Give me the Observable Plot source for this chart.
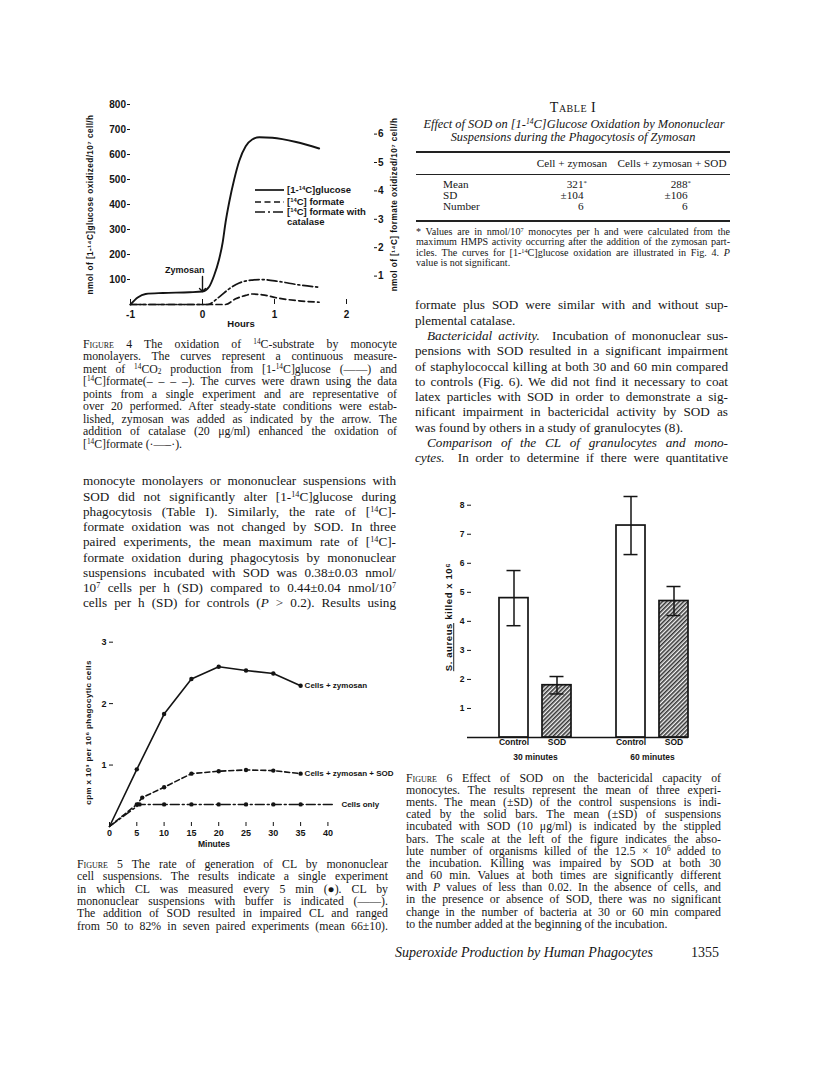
<!DOCTYPE html>
<html><head><meta charset="utf-8">
<script src="https://cdn.jsdelivr.net/npm/d3@7"></script>
<script src="https://cdn.jsdelivr.net/npm/@observablehq/plot@0.6"></script>
<style>
html,body{margin:0;padding:0;background:#fff;}
body{width:816px;height:1082px;position:relative;overflow:hidden;color:#161616;font-family:"Liberation Serif","Times New Roman",serif;}
.abs{position:absolute;}
.ln{white-space:nowrap;overflow:visible;}
sup{font-size:0.62em;line-height:0;vertical-align:0.5em;}
sub{font-size:0.62em;line-height:0;vertical-align:-0.15em;}
.sc{font-variant:small-caps;}
.sans{font-family:"Liberation Sans",Arial,sans-serif;font-weight:bold;}
svg{overflow:visible;}
</style>
</head><body>
<script>
// ================= DATA =================
// Figure 4 – continuous 14CO2 production (left axis nmol/10^7 cell/h, right axis formate nmol/10^7 cell/h)
const glucoseHours  = [-1, -0.9, -0.79, -0.55, -0.18, 0, 0.09, 0.16, 0.23, 0.28, 0.32, 0.37, 0.44, 0.51, 0.6, 0.69, 0.79, 0.97, 1.3, 1.62];
const glucoseRate   = [0, 28, 42, 46, 49, 52, 70, 115, 180, 248, 328, 408, 500, 574, 633, 660, 669, 667, 650, 624];
const formateHours  = [-1, 0, 0.32, 0.46, 0.6, 0.69, 0.83, 1.06, 1.34, 1.62];
const formateRate   = [0, 0, 0, 0.2, 0.32, 0.37, 0.34, 0.22, 0.13, 0.08];
const catalaseHours = [-1, 0, 0.07, 0.23, 0.37, 0.51, 0.69, 0.81, 1.06, 1.34, 1.62];
const catalaseRate  = [0, 0, 0, 0.26, 0.55, 0.76, 0.86, 0.88, 0.81, 0.69, 0.61];
const hoursTicks    = [-1, 0, 1, 2];
const glucoseTicks  = [100, 200, 300, 400, 500, 600, 700, 800];
const formateTicks  = [1, 2, 3, 4, 5, 6];
const zymosanEvent  = [{hours: 0, label: "Zymosan"}];
const fig4Legend    = ["[1-<sup>14</sup>C]glucose", "[<sup>14</sup>C] formate", "[<sup>14</sup>C] formate with", "catalase"];

// Figure 5 – CL, cpm x 10^3 per 10^6 phagocytic cells
const zymMinutes  = [0, 5, 10, 15, 20, 25, 30, 35];
const zymCL       = [0, 0.93, 1.83, 2.40, 2.60, 2.54, 2.49, 2.29];
const sodMinutes  = [0, 5, 6, 10, 15, 20, 25, 30, 35];
const sodCL       = [0, 0.36, 0.47, 0.64, 0.86, 0.90, 0.92, 0.91, 0.86];
const onlyMinutes = [0, 5.5, 10, 15, 20, 25, 30, 35, 41];
const onlyCL      = [0, 0.36, 0.36, 0.36, 0.36, 0.36, 0.36, 0.36, 0.36];
const onlyMeasured= [true, true, true, true, true, true, true, true, false];
const minuteTicks = [0, 5, 10, 15, 20, 25, 30, 35, 40];
const cpmTicks    = [1, 2, 3];
const fig5Series  = ["Cells + zymosan", "Cells + zymosan + SOD", "Cells only"];

// Figure 6 – S. aureus killed x 10^6
const killTimes   = ["30 minutes", "30 minutes", "60 minutes", "60 minutes"];
const killGroups  = ["Control", "SOD", "Control", "SOD"];
const killedMean  = [4.8, 1.8, 7.3, 4.7];
const killedSD    = [0.95, 0.3, 1.0, 0.5];
const killTicks   = [1, 2, 3, 4, 5, 6, 7, 8];

// Table I
const tableColumns = ["Cell + zymosan", "Cells + zymosan + SOD"];
const tableRows    = ["Mean", "SD", "Number"];
const tableCellZym    = ["321*", "±104", "6"];
const tableCellZymSOD = ["288*", "±106", "6"];

// Texts
const fig4Caption = [
 "<span class='sc'>Figure</span> 4 The oxidation of <sup>14</sup>C-substrate by monocyte",
 "monolayers. The curves represent a continuous measure-",
 "ment of <sup>14</sup>CO<sub>2</sub> production from [1-<sup>14</sup>C]glucose (——) and",
 "[<sup>14</sup>C]formate(– – – –). The curves were drawn using the data",
 "points from a single experiment and are representative of",
 "over 20 performed. After steady-state conditions were estab-",
 "lished, zymosan was added as indicated by the arrow. The",
 "addition of catalase (20 μg/ml) enhanced the oxidation of",
 "[<sup>14</sup>C]formate (·—–·).¶"];
const leftColumn = [
 "monocyte monolayers or mononuclear suspensions with",
 "SOD did not significantly alter [1-<sup>14</sup>C]glucose during",
 "phagocytosis (Table I). Similarly, the rate of [<sup>14</sup>C]-",
 "formate oxidation was not changed by SOD. In three",
 "paired experiments, the mean maximum rate of [<sup>14</sup>C]-",
 "formate oxidation during phagocytosis by mononuclear",
 "suspensions incubated with SOD was 0.38±0.03 nmol/",
 "10<sup>7</sup> cells per h (SD) compared to 0.44±0.04 nmol/10<sup>7</sup>",
 "cells per h (SD) for controls (<i>P</i> &gt; 0.2). Results using"];
const rightColumn = [
 "formate plus SOD were similar with and without sup-",
 "plemental catalase.¶",
 "»<i>Bactericidal activity.</i>&nbsp; Incubation of mononuclear sus-",
 "pensions with SOD resulted in a significant impairment",
 "of staphylococcal killing at both 30 and 60 min compared",
 "to controls (Fig. 6). We did not find it necessary to coat",
 "latex particles with SOD in order to demonstrate a sig-",
 "nificant impairment in bactericidal activity by SOD as",
 "was found by others in a study of granulocytes (8).¶",
 "»<i>Comparison of the CL of granulocytes and mono-</i>",
 "<i>cytes.</i>&nbsp; In order to determine if there were quantitative"];
const fig5Caption = [
 "<span class='sc'>Figure</span> 5 The rate of generation of CL by mononuclear",
 "cell suspensions. The results indicate a single experiment",
 "in which CL was measured every 5 min (●). CL by",
 "mononuclear suspensions with buffer is indicated (——).",
 "The addition of SOD resulted in impaired CL and ranged",
 "from 50 to 82% in seven paired experiments (mean 66±10)."];
const fig6Caption = [
 "<span class='sc'>Figure</span> 6 Effect of SOD on the bactericidal capacity of",
 "monocytes. The results represent the mean of three experi-",
 "ments. The mean (±SD) of the control suspensions is indi-",
 "cated by the solid bars. The mean (±SD) of suspensions",
 "incubated with SOD (10 μg/ml) is indicated by the stippled",
 "bars. The scale at the left of the figure indicates the abso-",
 "lute number of organisms killed of the 12.5 × 10<sup>6</sup> added to",
 "the incubation. Killing was impaired by SOD at both 30",
 "and 60 min. Values at both times are significantly different",
 "with <i>P</i> values of less than 0.02. In the absence of cells, and",
 "in the presence or absence of SOD, there was no significant",
 "change in the number of bacteria at 30 or 60 min compared",
 "to the number added at the beginning of the incubation.¶"];
const tableFootnote = [
 "* Values are in nmol/10<sup>7</sup> monocytes per h and were calculated from the",
 "maximum HMPS activity occurring after the addition of the zymosan part-",
 "icles. The curves for [1-<sup>14</sup>C]glucose oxidation are illustrated in Fig. 4. <i>P</i>",
 "value is not significant.¶"];

// ================= HELPERS =================
function textBlock(lines, o) {
  const div = document.createElement("div");
  div.className = "abs";
  Object.assign(div.style, {left: o.left + "px", top: (o.center - o.lh / 2) + "px", width: o.width + "px",
    fontSize: o.size + "px", lineHeight: o.lh + "px", fontStyle: o.italic ? "italic" : "normal"});
  for (const raw of lines) {
    let s = raw, just = true, indent = 0;
    if (s.endsWith("¶")) { s = s.slice(0, -1); just = false; }
    if (s.startsWith("»")) { s = s.slice(1); indent = o.indent || 12; }
    const ln = document.createElement("div");
    ln.className = "ln";
    ln.style.height = o.lh + "px";
    ln.style.paddingLeft = indent + "px";
    const sp = document.createElement("span");
    sp.innerHTML = s;
    ln.appendChild(sp);
    ln.dataset.j = just ? "1" : "0";
    ln.dataset.w = o.width - indent;
    div.appendChild(ln);
  }
  document.body.appendChild(div);
  return div;
}
function place(html, o) {
  const d = document.createElement("div");
  d.className = "abs" + (o.cls ? " " + o.cls : "");
  d.innerHTML = html;
  const w = o.width || 400;
  let left = o.left;
  if (o.align === "center") left = o.x - w / 2;
  if (o.align === "right") left = o.x - w;
  Object.assign(d.style, {left: left + "px", top: (o.center - (o.lh || o.size * 1.2) / 2) + "px", width: w + "px",
    fontSize: o.size + "px", lineHeight: (o.lh || o.size * 1.2) + "px", textAlign: o.align || "left",
    fontStyle: o.italic ? "italic" : "normal", whiteSpace: "nowrap", letterSpacing: o.ls || "normal"});
  document.body.appendChild(d);
  return d;
}
function rule(left, width, center, thick) {
  const d = document.createElement("div");
  d.className = "abs";
  Object.assign(d.style, {left: left + "px", width: width + "px", top: (center - thick / 2) + "px", height: thick + "px", background: "#222"});
  document.body.appendChild(d);
}
function fit() {
  document.querySelectorAll(".ln").forEach(ln => {
    const sp = ln.firstChild, W = +ln.dataset.w;
    sp.style.wordSpacing = ""; sp.style.letterSpacing = "";
    const w = sp.getBoundingClientRect().width;
    if (w > W) sp.style.letterSpacing = ((W - w) / sp.textContent.length) + "px";
    else if (ln.dataset.j === "1") {
      const n = (sp.textContent.match(/[ \u00a0]/g) || []).length;
      if (n) sp.style.wordSpacing = ((W - w) / n) + "px";
    }
  });
}
function mount(svg, left, top) {
  svg.style.position = "absolute";
  svg.style.left = left + "px";
  svg.style.top = top + "px";
  document.body.appendChild(svg);
}
// restyle axis titles (and drop any automatic arrow)
function styleTitle(svg, startsWith, attrs) {
  svg.querySelectorAll("text").forEach(t => {
    const s = t.textContent.replace(/[↑↓←→]/g, "").trim();
    if (s.startsWith(startsWith)) {
      if (s !== t.textContent) t.textContent = s;
      for (const k in attrs) t.setAttribute(k, attrs[k]);
    }
  });
}
const ink = "#141414";

// ================= FIGURE 4 =================
const K = 113.6; // left-axis units per right-axis unit
const glucose = glucoseHours.map((h, i) => ({h, v: glucoseRate[i]}));
const formate = formateHours.map((h, i) => ({h, v: formateRate[i]}));
const catalase = catalaseHours.map((h, i) => ({h, v: catalaseRate[i]}));
const g0 = glucoseRate[glucoseHours.indexOf(0)];
const fig4 = Plot.plot({
  width: 420, height: 250, marginLeft: 130, marginRight: 47, marginTop: 14, marginBottom: 36,
  style: {fontFamily: "Liberation Sans, Arial, sans-serif", fontWeight: "bold", fontSize: "10px", color: ink, background: "transparent"},
  x: {domain: [-1, 2.375]},
  y: {domain: [0, 800]},
  marks: [
    Plot.axisX(hoursTicks, {tickSize: -5, tickPadding: 11, line: true, label: null, tickFormat: d => String(d)}),
    Plot.axisY(glucoseTicks, {tickSize: 3, tickPadding: 1.5, line: true, labelAnchor: "center", labelOffset: 43, labelArrow: "none",
      label: "nmol of [1-¹⁴C]glucose oxidized/10⁷ cell/h", tickFormat: d => String(d)}),
    Plot.axisY(formateTicks.map(v => v * K), {anchor: "right", tickSize: 3, tickPadding: 1.5, line: true, tickFormat: d => String(Math.round(d / K)),
      labelAnchor: "center", labelOffset: 23, labelArrow: "none", label: "nmol of [¹⁴C] formate oxidized/10⁷ cell/h"}),
    Plot.line(glucose, {x: "h", y: "v", curve: "monotone-x", stroke: ink, strokeWidth: 1.9}),
    Plot.line(formate, {x: "h", y: d => d.v * K, curve: "monotone-x", stroke: ink, strokeWidth: 1.7, strokeDasharray: "6,3.5"}),
    Plot.line(catalase, {x: "h", y: d => d.v * K, curve: "monotone-x", stroke: ink, strokeWidth: 1.7, strokeDasharray: "10,3,2,3"}),
    Plot.vector(zymosanEvent, {x: "hours", y: () => g0, length: 15, rotate: 180, anchor: "end", stroke: ink, strokeWidth: 1.4}),
    Plot.text(zymosanEvent, {x: "hours", y: () => g0, text: "label", textAnchor: "end", dy: -21, dx: 2, fontSize: 9, fontWeight: "bold"}),
    Plot.text(["Hours"], {frameAnchor: "bottom", dy: 22, dx: -11, fontSize: 9.5, fontWeight: "bold"})
  ]
});
styleTitle(fig4, "nmol of", {"font-size": "8.2", "letter-spacing": "0.45"});
mount(fig4, 0, 90);

// legend for figure 4
(function () {
  const dashes = ["none", "6,3.5", "10,3,2,3", null];
  const rowsY = [190, 202, 212, 222];
  fig4Legend.forEach((lab, i) => {
    if (dashes[i] !== null) {
      const s = d3.create("svg").attr("width", 30).attr("height", 6)
        .style("position", "absolute").style("left", "255px").style("top", (rowsY[i] - 3) + "px");
      s.append("line").attr("x1", 0).attr("x2", 29).attr("y1", 3).attr("y2", 3)
        .attr("stroke", ink).attr("stroke-width", 1.7).attr("stroke-dasharray", dashes[i]);
      document.body.appendChild(s.node());
    }
    place(lab, {left: 287, center: rowsY[i], size: 9.5, cls: "sans", width: 110});
  });
})();

// ================= FIGURE 5 =================
const zym = zymMinutes.map((m, i) => ({m, v: zymCL[i], s: fig5Series[0], measured: true}));
const sod = sodMinutes.map((m, i) => ({m, v: sodCL[i], s: fig5Series[1], measured: true}));
const only = onlyMinutes.map((m, i) => ({m, v: onlyCL[i], s: fig5Series[2], measured: onlyMeasured[i]}));
const lastOf = arr => arr[arr.length - 1];
const fig5 = Plot.plot({
  width: 420, height: 230, marginLeft: 109, marginRight: 62, marginTop: 13, marginBottom: 29,
  style: {fontFamily: "Liberation Sans, Arial, sans-serif", fontWeight: "bold", fontSize: "9px", color: ink, background: "transparent"},
  x: {domain: [0, 45.6]},
  y: {domain: [0, 3.06]},
  marks: [
    Plot.axisX(minuteTicks, {tickSize: -4, tickPadding: 7, line: true, label: null, tickFormat: d => String(d)}),
    Plot.axisY(cpmTicks, {tickSize: -4, tickPadding: 7, line: true, labelAnchor: "center", labelOffset: 24, labelArrow: "none",
      label: "cpm x 10³ per 10⁶ phagocytic cells", tickFormat: d => String(d)}),
    Plot.line(zym, {x: "m", y: "v", stroke: ink, strokeWidth: 1.6}),
    Plot.line(sod, {x: "m", y: "v", stroke: ink, strokeWidth: 1.6, strokeDasharray: "5,3"}),
    Plot.line(only, {x: "m", y: "v", stroke: ink, strokeWidth: 1.5, strokeDasharray: "9,3,2,3"}),
    Plot.dot([...zym, ...sod, ...only].filter(d => d.measured && d.m > 0), {x: "m", y: "v", r: 2.2, fill: ink}),
    Plot.text([lastOf(zym), lastOf(sod)], {x: "m", y: "v", text: "s", textAnchor: "start", dx: 4, fontSize: 8, fontWeight: "bold"}),
    Plot.text([lastOf(only)], {x: "m", y: "v", text: "s", textAnchor: "start", dx: 8, fontSize: 8, fontWeight: "bold"}),
    Plot.text(["Minutes"], {frameAnchor: "bottom", dy: 20, dx: -20, fontSize: 8.5, fontWeight: "bold"})
  ]
});
styleTitle(fig5, "cpm x", {"font-size": "8", "letter-spacing": "0.4"});
mount(fig5, 0, 625);

// ================= FIGURE 6 =================
const kill = killedMean.map((v, i) => ({time: killTimes[i], group: killGroups[i], v, lo: v - killedSD[i], hi: v + killedSD[i]}));
const half = 21.5; // half distance between paired bars
const offsetOf = g => g === "Control" ? -half : half;
const fig6marks = [];
for (const g of ["Control", "SOD"]) {
  const data = kill.filter(d => d.group === g);
  const dx = offsetOf(g);
  fig6marks.push(
    Plot.barY(data, {x: "time", y: "v", dx, insetLeft: 21.5, insetRight: 21.5, fill: g === "Control" ? "white" : "url(#hatch6)", stroke: ink, strokeWidth: 1.7}),
    Plot.ruleX(data, {x: "time", y1: "lo", y2: "hi", dx, stroke: ink, strokeWidth: 1.5}),
    Plot.tickY(data, {x: "time", y: "lo", dx, insetLeft: 29, insetRight: 29, stroke: ink, strokeWidth: 1.5}),
    Plot.tickY(data, {x: "time", y: "hi", dx, insetLeft: 29, insetRight: 29, stroke: ink, strokeWidth: 1.5}),
    Plot.text(data, {x: "time", text: "group", frameAnchor: "bottom", lineAnchor: "top", dx, dy: 1, fontSize: 8.5, fontWeight: "bold"})
  );
}
const fig6 = Plot.plot({
  width: 300, height: 280, marginLeft: 67, marginRight: 12, marginTop: 11, marginBottom: 28,
  style: {fontFamily: "Liberation Sans, Arial, sans-serif", fontWeight: "bold", fontSize: "8.5px", color: ink, background: "transparent"},
  x: {domain: ["30 minutes", "60 minutes"], paddingInner: 0.381, paddingOuter: 0.127, align: 1},
  y: {domain: [0, 8.3]},
  marks: [
    ...fig6marks,
    Plot.ruleY([0], {stroke: ink, strokeWidth: 1.5}),
    Plot.axisY(killTicks, {tickSize: -4, tickPadding: 7, line: true, labelAnchor: "center", labelOffset: 22, labelArrow: "none", label: "S. aureus killed x 10⁶", tickFormat: d => String(d)}),
    Plot.axisX({tickSize: 0, tickPadding: 16, label: null})
  ]
});
(function () {
  const ns = "http://www.w3.org/2000/svg";
  const defs = document.createElementNS(ns, "defs");
  const pat = document.createElementNS(ns, "pattern");
  pat.setAttribute("id", "hatch6"); pat.setAttribute("patternUnits", "userSpaceOnUse");
  pat.setAttribute("width", "3"); pat.setAttribute("height", "3"); pat.setAttribute("patternTransform", "rotate(45)");
  const bg = document.createElementNS(ns, "rect");
  bg.setAttribute("width", "3"); bg.setAttribute("height", "3"); bg.setAttribute("fill", "#f2f2f2");
  const l = document.createElementNS(ns, "line");
  l.setAttribute("x1", "0.8"); l.setAttribute("x2", "0.8"); l.setAttribute("y1", "0"); l.setAttribute("y2", "3");
  l.setAttribute("stroke", "#2a2a2a"); l.setAttribute("stroke-width", "1.5");
  pat.append(bg, l); defs.append(pat); fig6.prepend(defs);
  fig6.querySelectorAll("text").forEach(t => {
    const s = t.textContent.replace(/[↑↓←→]/g, "").trim();
    if (s.startsWith("S. aureus")) {
      t.textContent = "";
      const a = document.createElementNS(ns, "tspan");
      a.setAttribute("text-decoration", "underline");
      a.textContent = "S. aureus";
      t.append(a, " killed x 10⁶");
      t.setAttribute("font-size", "9.5");
      t.setAttribute("letter-spacing", "0.6");
    }
  });
})();
mount(fig6, 400, 485);

// ================= TEXT =================
textBlock(fig4Caption, {left: 83, center: 344, width: 314, size: 11.8, lh: 12.5});
textBlock(leftColumn, {left: 83, center: 481, width: 313, size: 13.2, lh: 15.25});
textBlock(rightColumn, {left: 415, center: 305, width: 313, size: 13.2, lh: 15.3, indent: 12});
textBlock(fig5Caption, {left: 77, center: 864.3, width: 311, size: 11.8, lh: 12.3});
textBlock(fig6Caption, {left: 406, center: 777.7, width: 315, size: 11.8, lh: 12.19});

// Table I
place("<span class='sc'>Table I</span>", {x: 573, align: "center", center: 108, size: 14, ls: "0.5px"});
place("Effect of SOD on [1-<sup>14</sup>C]Glucose Oxidation by Mononuclear", {x: 574, align: "center", center: 124, size: 12.4, italic: true});
place("Suspensions during the Phagocytosis of Zymosan", {x: 573, align: "center", center: 137, size: 12.4, italic: true});
rule(416, 314, 152, 1.8);
place(tableColumns[0], {x: 572, align: "center", center: 164, size: 11.2, width: 140});
place(tableColumns[1], {x: 672, align: "center", center: 164, size: 11.2, width: 140});
rule(416, 314, 174, 1);
const star = s => s.endsWith("*") ? s.slice(0, -1) + "<sup>*</sup>" : s + "<sup style='visibility:hidden'>*</sup>";
tableRows.forEach((r, i) => {
  const cy = 185 + i * 11;
  place(r, {left: 443, center: cy, size: 11.2, width: 80});
  place(star(tableCellZym[i]), {x: 587, align: "right", center: cy, size: 11.2, width: 60});
  place(star(tableCellZymSOD[i]), {x: 691, align: "right", center: cy, size: 11.2, width: 60});
});
rule(416, 314, 221, 1.8);
textBlock(tableFootnote, {left: 416, center: 232, width: 314, size: 10.1, lh: 10.6});

// Running footer
place("Superoxide Production by Human Phagocytes", {left: 395, center: 953, size: 14, italic: true, width: 280});
place("1355", {x: 719, align: "right", center: 953, size: 14, width: 60});

fit();
if (document.fonts && document.fonts.ready) document.fonts.ready.then(fit);
</script>
</body></html>
